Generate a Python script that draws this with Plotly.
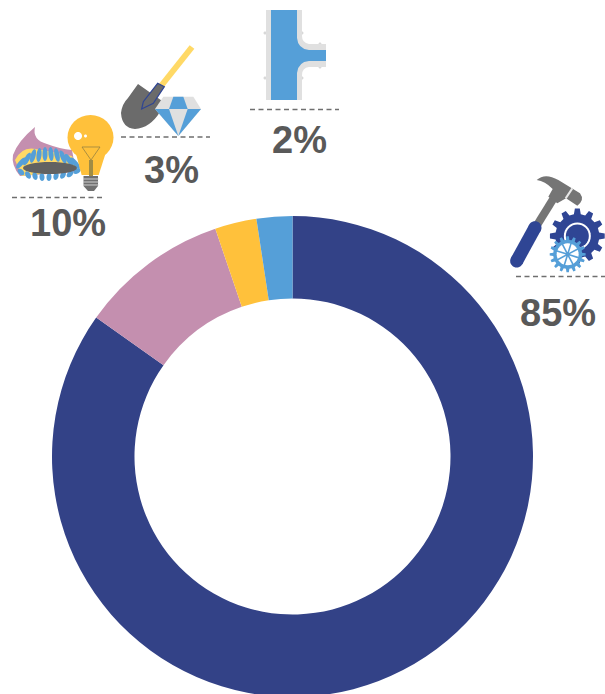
import math
import plotly.graph_objects as go

W, H = 605, 697

# data
segments = ["Tools and machinery", "Gas and electricity", "Mining", "Pipes and fittings"]
shares = [84.8, 10.0, 2.8, 2.4]
colors = ["#334287", "#C48FAF", "#FFC13B", "#559FD8"]
label_texts = ["85%", "10%", "3%", "2%"]
label_centers = [(558, 312.5), (68, 222.5), (171.5, 169.5), (299, 139.5)]
rule_spans = [(516, 605, 276.5), (12, 102, 197.5), (121, 210, 137), (250, 339, 109.5)]

GRAY = "#6B6B6B"
BLUE = "#559FD8"
NAVY = "#2F4594"
LIGHT = "#E0E0E0"
YEL = "#FFC13B"
shapes = []


def fx(x):
    return x / W


def fy(y):
    return 1 - y / H


def poly(points, fill=None, line=None, width=0, close=True):
    d = "M" + " L".join(f"{fx(x):.5f},{fy(y):.5f}" for x, y in points) + (" Z" if close else "")
    shapes.append(dict(type="path", xref="paper", yref="paper", path=d,
                       fillcolor=fill if fill else "rgba(0,0,0,0)",
                       line=dict(color=line if line else "rgba(0,0,0,0)", width=width)))


def path(cmds, fill=None, line=None, width=0):
    out = []
    for c in cmds:
        out.append(c[0] + " ".join(f"{fx(c[i]):.5f},{fy(c[i + 1]):.5f}" for i in range(1, len(c), 2)))
    d = " ".join(out) + " Z"
    shapes.append(dict(type="path", xref="paper", yref="paper", path=d,
                       fillcolor=fill if fill else "rgba(0,0,0,0)",
                       line=dict(color=line if line else "rgba(0,0,0,0)", width=width)))


def circle(cx, cy, rx, ry=None, fill=None, line=None, width=0, rot=0):
    ry = rx if ry is None else ry
    pts = []
    for i in range(32):
        a = 2 * math.pi * i / 32
        x, y = rx * math.cos(a), ry * math.sin(a)
        r = math.radians(rot)
        pts.append((cx + x * math.cos(r) - y * math.sin(r), cy + x * math.sin(r) + y * math.cos(r)))
    poly(pts, fill, line, width)


def seg(a, b, color, width):
    poly([a, b], None, color, width, close=False)


def gear(cx, cy, ro, ri, teeth, color):
    pts = []
    for i in range(teeth):
        a = 2 * math.pi * i / teeth
        s = 2 * math.pi / teeth
        for da, r in [(-0.3, ri), (-0.17, ro), (0.17, ro), (0.3, ri)]:
            pts.append((cx + r * math.cos(a + da * s), cy + r * math.sin(a + da * s)))
    poly(pts, color)


def z(ox, oy, pts):
    return [(ox + x / 3, oy + y / 3) for x, y in pts]


# pipe tee icon
for cy in (33, 78):
    circle(265, cy, 1.5, fill="#D8D8D8")
    circle(302, cy, 1.5, fill="#D8D8D8")
circle(320, 44, 1.5, fill="#D8D8D8")
circle(320, 67, 1.5, fill="#D8D8D8")
path([("M", 266, 10), ("L", 302, 10), ("L", 302, 36), ("Q", 302, 43, 309, 44), ("L", 326, 44),
      ("L", 326, 67), ("L", 309, 67), ("Q", 302, 68, 302, 75), ("L", 302, 100), ("L", 266, 100)], fill=LIGHT)
path([("M", 271, 10), ("L", 297, 10), ("L", 297, 38), ("Q", 298, 49, 309, 50), ("L", 326, 50),
      ("L", 326, 61), ("L", 309, 61), ("Q", 298, 62, 297, 73), ("L", 297, 100), ("L", 271, 100)], fill=BLUE)

# shovel and diamond icon
seg((161, 86), (192, 47), "#FFD966", 6)
path([("M", 138, 84), ("L", 165, 103), ("L", 160, 112), ("Q", 150, 128, 135, 129),
      ("Q", 122, 128, 121, 113), ("Q", 122, 104, 128, 98)], fill=GRAY)
poly(z(115, 35, [(80, 222), (85, 200), (128, 145), (148, 155), (115, 205)]), GRAY, "#2F4594", 1.2)
poly(z(115, 35, [(145, 185), (235, 185), (258, 222), (190, 303), (120, 222)]), LIGHT)
poly(z(115, 35, [(175, 185), (205, 185), (218, 222), (162, 222)]), BLUE)
poly(z(115, 35, [(120, 222), (162, 222), (190, 303)]), BLUE)
poly(z(115, 35, [(218, 222), (258, 222), (190, 303)]), BLUE)

# hammer and gears icon
seg(z(500, 165, [(105, 190)])[0], z(500, 165, [(172, 82)])[0], "#757575", 8)
seg(z(500, 165, [(50, 288)])[0], z(500, 165, [(105, 188)])[0], NAVY, 13)
circle(*z(500, 165, [(50, 288)])[0], 6.5, fill=NAVY)
circle(*z(500, 165, [(105, 188)])[0], 6.5, fill=NAVY)
h = lambda x, y: (500 + x / 3, 165 + y / 3)
path([("M", *h(110, 45)), ("Q", *h(135, 22), *h(175, 45)), ("L", *h(240, 85)),
      ("Q", *h(255, 105), *h(232, 122)), ("L", *h(198, 100)), ("L", *h(172, 115)),
      ("L", *h(145, 95)), ("L", *h(158, 72)), ("Q", *h(135, 48), *h(110, 45))], fill="#757575")
seg(h(217, 70), h(197, 100), "#E8E8E8", 2)
gear(*h(232, 213), 27.5, 22, 12, NAVY)
circle(*h(232, 213), 13.5, fill="white")
circle(*h(232, 213), 11.5, fill=NAVY)
gear(*h(203, 268), 18, 14.5, 16, BLUE)
cx, cy = h(203, 268)
circle(cx, cy, 11, fill="white")
circle(cx, cy, 2, fill=NAVY)
for k in range(8):
    a = math.pi * k / 4 + 0.3
    seg((cx, cy), (cx + 12 * math.cos(a), cy + 12 * math.sin(a)), BLUE, 1.6)

# burner and light bulb icon
path([("M", 35, 127), ("Q", 32, 140, 47, 144), ("Q", 60, 149, 72, 150), ("L", 76, 172), ("L", 20, 176),
      ("Q", 11, 165, 13, 155), ("Q", 18, 141, 35, 127)], fill="#C48FAF")
path([("M", 15, 160), ("Q", 22, 146, 36, 149), ("Q", 55, 152, 72, 156), ("L", 77, 170), ("L", 22, 176)], fill="#FFD966")
petals_top = [(21, 163, 130), (27, 159, 118), (33, 156, 105), (39, 155, 96), (45, 154, 90),
              (51, 154, 85), (57, 155, 78), (63, 157, 68), (69, 160, 58), (75, 163, 50)]
petals_bottom = [(21, 172, 45), (28, 175, 60), (35, 176, 75), (42, 177, 85), (49, 177, 95),
                 (56, 176, 105), (63, 175, 120), (70, 174, 135), (77, 171, 150)]
for px, py, rot in petals_top:
    circle(px, py, 7, 2.5, fill=BLUE, rot=rot)
for px, py, rot in petals_bottom:
    circle(px, py, 4, 2.5, fill=BLUE, rot=rot)
circle(50, 168, 27, 6, fill="#626262")
poly(z(0, 100, [(225, 150), (320, 150), (296, 225), (245, 225)]), YEL)
circle(90.5, 137.5, 23, 22.5, fill=YEL)
circle(78, 136, 4, fill="white")
circle(85.5, 136, 1.5, fill="white")
seg((82, 147), (100, 147), "#8A7A40", 0.7)
seg((82, 147), (91, 160), "#8A7A40", 0.7)
seg((100, 147), (91, 160), "#8A7A40", 0.7)
poly([(89, 160), (93, 160), (93, 176), (89, 176)], "#A08C45")
poly([(83.5, 176), (98, 176), (98, 186), (94, 191), (88, 191), (83.5, 186)], "#707070")
for yy in (179, 182, 185):
    seg((83, yy), (98.5, yy), "#D0D0D0", 1)

# dashed rules under the icons
for x0, x1, y in rule_spans:
    shapes.append(dict(type="line", xref="paper", yref="paper", x0=fx(x0), x1=fx(x1), y0=fy(y), y1=fy(y),
                       line=dict(color="#6F6F6F", width=1.3, dash="5px,3.5px")))

annotations = [dict(x=fx(x), y=fy(y), xref="paper", yref="paper", text=f"<b>{t}</b>", showarrow=False,
                    xanchor="center", yanchor="middle",
                    font=dict(family="Liberation Sans", size=38, color="#595959"))
               for t, (x, y) in zip(label_texts, label_centers)]

fig = go.Figure(go.Pie(
    labels=segments, values=shares, hole=0.657, sort=False, direction="clockwise", rotation=0,
    marker=dict(colors=colors, line=dict(width=0)), textinfo="none", hoverinfo="label+percent",
    domain=dict(x=[52 / W, 533 / W], y=[0, 1 - 216 / H]),
))
fig.update_layout(width=W, height=H, margin=dict(l=0, r=0, t=0, b=0), autosize=False, showlegend=False,
                  paper_bgcolor="white", shapes=shapes, annotations=annotations)
fig.write_html("out.html", config=dict(displayModeBar=False),
               post_script="document.body.style.margin='0';document.documentElement.style.overflow='hidden';")
